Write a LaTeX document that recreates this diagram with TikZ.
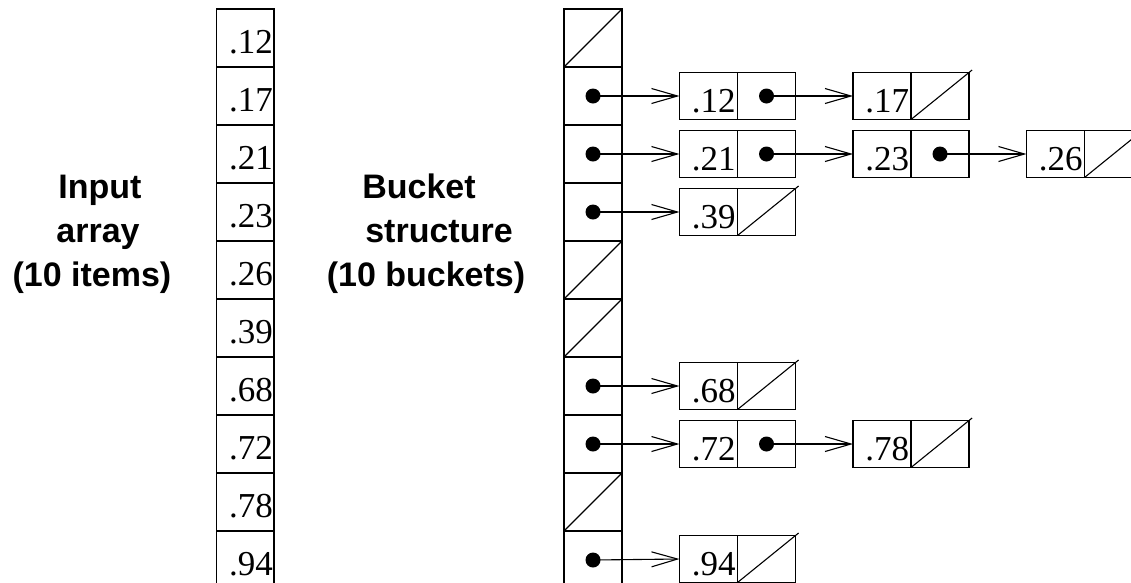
\documentclass[tikz,border=0pt]{standalone}
\usepackage{fontspec}
\setmainfont{Liberation Serif}
\newfontfamily\labelfont{Liberation Sans}
\usetikzlibrary{arrows.meta}
\begin{document}
\begin{tikzpicture}[x=1pt,y=1pt,
  line width=1.2pt,
  cell/.style={draw, minimum width=57.5pt, minimum height=58pt, inner sep=0pt, outer sep=0pt},
  half/.style={draw, minimum width=58pt, minimum height=47pt, inner sep=0pt, outer sep=0pt},
  val/.style={anchor=base east, inner sep=0pt, outer sep=0pt, font=\fontsize{35}{40}\selectfont},
  lab/.style={anchor=base, inner sep=0pt, outer sep=0pt, font=\labelfont\bfseries\fontsize{34}{40}\selectfont},
  ptr/.style={-{Straight Barb[length=26pt,width=15pt]}, line width=1.1pt},
  dot/.style={circle, fill, inner sep=0pt, outer sep=0pt, minimum size=15pt},
  nil/.style={line width=1.1pt}
]
\path[use as bounding box, clip] (0,0) rectangle (1131,-582);

% labels
\node[lab] (l1) at (100,-198) {Input};
\node[lab] (l2) at (98,-242) {array};
\node[lab] (l3) at (92,-286) {(10 items)};
\node[lab] (m1) at (419,-198) {Bucket};
\node[lab] (m2) at (439,-242) {structure};
\node[lab] (m3) at (426,-286) {(10 buckets)};

% input array
\foreach \x [count=\i from 0] in {.12,.17,.21,.23,.26,.39,.68,.72,.78,.94} {
  \node[cell] (a\i) at (245.3,{-38-58*\i}) {};
  \node[val] (av\i) at ([shift={(-1.2,14)}]a\i.south east) {\x};
}

% bucket array
\foreach \i in {0,...,9} {
  \node[cell, minimum width=58pt] (b\i) at (593,{-38-58*\i}) {};
}
\foreach \i in {0,4,5,8} {
  \draw[nil] (b\i.south west) -- (b\i.north east);
}

% list nodes: key half and pointer half
\foreach \r/\c/\kx/\px/\y/\x in {
  1/1/708.5/766.5/-96/.12, 1/2/882/940/-96/.17,
  2/1/708.5/766.5/-154/.21, 2/2/882/940/-154/.23, 2/3/1055.5/1113.5/-154/.26,
  3/1/708.5/766.5/-212/.39,
  6/1/708.5/766.5/-386/.68,
  7/1/708.5/766.5/-444/.72, 7/2/882/940/-444/.78,
  9/1/708.5/766.5/-559/.94} {
  \node[half] (k\r\c) at (\kx,\y) {};
  \node[half] (p\r\c) at (\px,\y) {};
  \node[val] (kv\r\c) at ([shift={(-1.8,7)}]k\r\c.south east) {\x};
}

% null pointers at list ends
\foreach \n in {12,23,31,61,72,91} {
  \draw[nil, shorten >=-4pt] (p\n.south west) -- (p\n.north east);
}

% pointers from buckets
\foreach \r in {1,2,3,6,7,9} {
  \node[dot] (d\r) at (b\r.center) {};
  \draw[ptr] (d\r.center) -- (k\r1.west);
}

% pointers between list nodes
\node[dot] (e11) at (p11.center) {};
\draw[ptr] (e11.center) -- (k12.west);
\node[dot] (e21) at (p21.center) {};
\draw[ptr] (e21.center) -- (k22.west);
\node[dot] (e22) at (p22.center) {};
\draw[ptr] (e22.center) -- (k23.west);
\node[dot] (e71) at (p71.center) {};
\draw[ptr] (e71.center) -- (k72.west);
\end{tikzpicture}
\end{document}
